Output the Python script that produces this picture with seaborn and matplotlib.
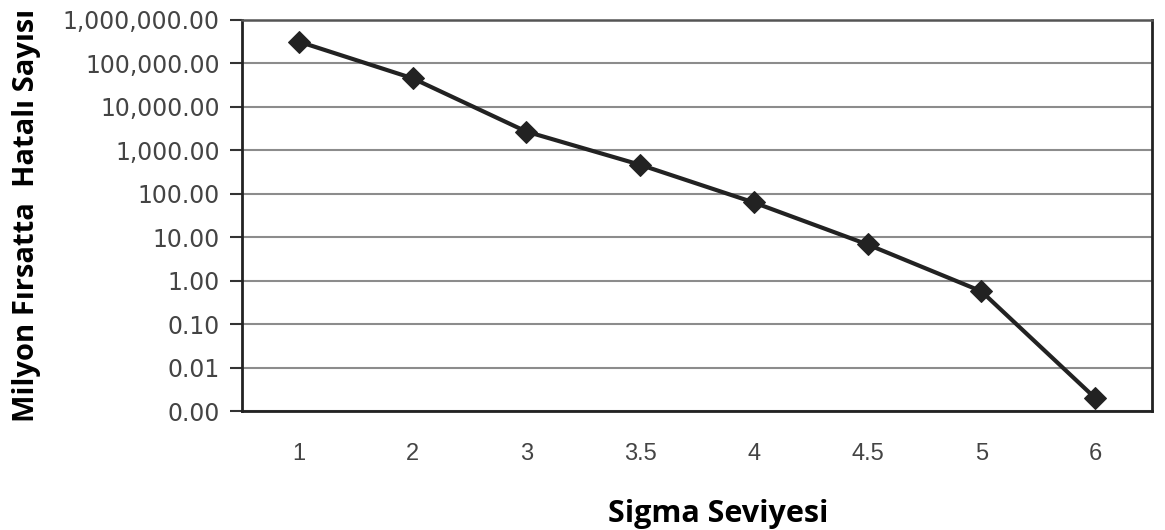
import matplotlib
matplotlib.use("Agg")
import matplotlib.pyplot as plt
import matplotlib.ticker as mticker
import seaborn as sns
import pandas as pd

sigma_levels = ["1", "2", "3", "3.5", "4", "4.5", "5", "6"]
dpmo = [317311, 45500, 2700, 465, 63, 6.8, 0.57, 0.002]
y_ticks = [0.001, 0.01, 0.1, 1, 10, 100, 1000, 10000, 100000, 1000000]

df = pd.DataFrame({"Sigma": sigma_levels, "DPMO": dpmo})

sns.set_theme(style="white")
plt.rcParams["font.family"] = ["DejaVu Sans"]

fig = plt.figure(figsize=(11.65, 5.3), dpi=100)
ax = fig.add_axes([0.2077, 0.2245, 0.7811, 0.7378])

sns.lineplot(data=df, x="Sigma", y="DPMO", ax=ax, color="#222222", linewidth=3.0,
             marker="D", markersize=11, markeredgecolor="#222222", sort=False)

ax.set_yscale("log")
ax.set_ylim(0.001, 1000000)
ax.set_xlim(-0.5, len(sigma_levels) - 0.5)
ax.set_yticks(y_ticks)
ax.yaxis.set_major_formatter(mticker.FuncFormatter(lambda v, p: f"{v:,.2f}"))
ax.yaxis.set_minor_locator(mticker.NullLocator())
ax.grid(axis="y", which="major", color="#8c8c8c", linewidth=1.5)
ax.set_axisbelow(True)

for s in ["left", "bottom", "right"]:
    ax.spines[s].set_color("#222222")
    ax.spines[s].set_linewidth(2.0)
ax.spines["top"].set_color("#555555")
ax.spines["top"].set_linewidth(1.8)

ax.tick_params(axis="y", which="major", direction="out", length=9, width=1.5,
               color="#333333", left=True, labelsize=17, labelcolor="#444444", pad=7)
ax.tick_params(axis="x", length=0, labelsize=17, labelcolor="#444444", pad=23)
for lbl in ax.get_xticklabels():
    lbl.set_fontfamily("Liberation Sans")

ax.set_xlabel("Sigma Seviyesi", fontsize=22, fontweight="bold", fontfamily="Open Sans",
              color="black", labelpad=20)
ax.xaxis.set_label_coords(0.523, -0.225)
ax.set_ylabel("Milyon Fırsatta  Hatalı Sayısı", fontsize=21, fontweight="bold",
              fontfamily="Open Sans", color="black", labelpad=16)

fig.savefig("out.png", dpi=100)
